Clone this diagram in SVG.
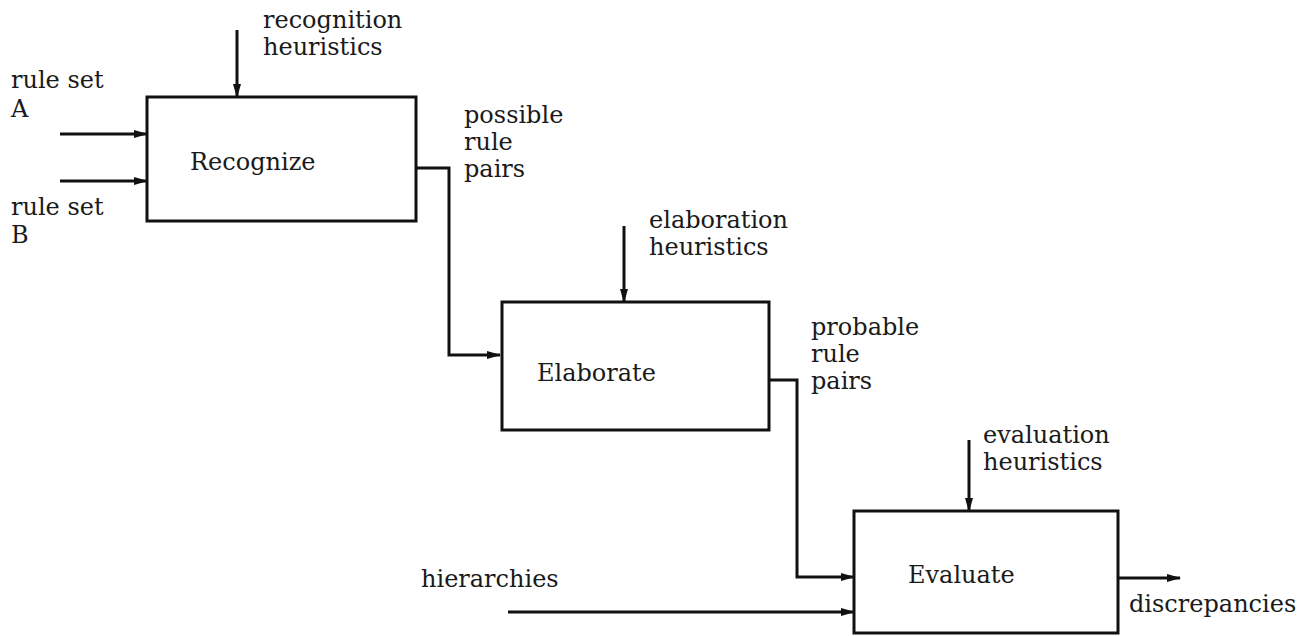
<svg xmlns="http://www.w3.org/2000/svg" width="1310" height="636" viewBox="0 0 1310 636">
<style>
text{font-family:"DejaVu Serif","Liberation Serif",serif;font-size:24px;fill:#1a1a1a}
.box{fill:none;stroke:#111;stroke-width:3}
.c{fill:none;stroke:#111;stroke-width:3}
</style>
<defs>
<marker id="ah" markerWidth="14" markerHeight="10" refX="13" refY="5" orient="auto" markerUnits="userSpaceOnUse">
<path d="M0,1 L14,5 L0,9 Z" fill="#111"/>
</marker>
</defs>
<rect width="1310" height="636" fill="#fff"/>
<g id="connectors">
<line class="c" x1="237" y1="30" x2="237" y2="97" marker-end="url(#ah)"/>
<line class="c" x1="60" y1="134" x2="147" y2="134" marker-end="url(#ah)"/>
<line class="c" x1="60" y1="181" x2="147" y2="181" marker-end="url(#ah)"/>
<polyline class="c" points="416,168 449,168 449,355 500,355" marker-end="url(#ah)"/>
<line class="c" x1="624" y1="226" x2="624" y2="302" marker-end="url(#ah)"/>
<polyline class="c" points="769,380 797,380 797,577 854,577" marker-end="url(#ah)"/>
<line class="c" x1="969" y1="440" x2="969" y2="511" marker-end="url(#ah)"/>
<line class="c" x1="508" y1="612" x2="854" y2="612" marker-end="url(#ah)"/>
<line class="c" x1="1118" y1="578" x2="1180" y2="578" marker-end="url(#ah)"/>
</g>
<g id="recognize">
<rect class="box" x="147" y="97" width="269" height="124"/>
<text x="190" y="170">Recognize</text>
</g>
<g id="elaborate">
<rect class="box" x="502" y="302" width="267" height="128"/>
<text x="537" y="381">Elaborate</text>
</g>
<g id="evaluate">
<rect class="box" x="854" y="511" width="264" height="122"/>
<text x="908" y="583">Evaluate</text>
</g>
<g id="labels">
<text x="263" y="28">recognition</text>
<text x="263" y="55">heuristics</text>
<text x="11" y="88">rule set</text>
<text x="11" y="117">A</text>
<text x="11" y="215">rule set</text>
<text x="11" y="243">B</text>
<text x="464" y="123">possible</text>
<text x="464" y="150">rule</text>
<text x="464" y="177">pairs</text>
<text x="649" y="228">elaboration</text>
<text x="649" y="255">heuristics</text>
<text x="811" y="335">probable</text>
<text x="811" y="362">rule</text>
<text x="811" y="389">pairs</text>
<text x="983" y="443">evaluation</text>
<text x="983" y="470">heuristics</text>
<text x="421" y="587">hierarchies</text>
<text x="1129" y="612">discrepancies</text>
</g>
</svg>
